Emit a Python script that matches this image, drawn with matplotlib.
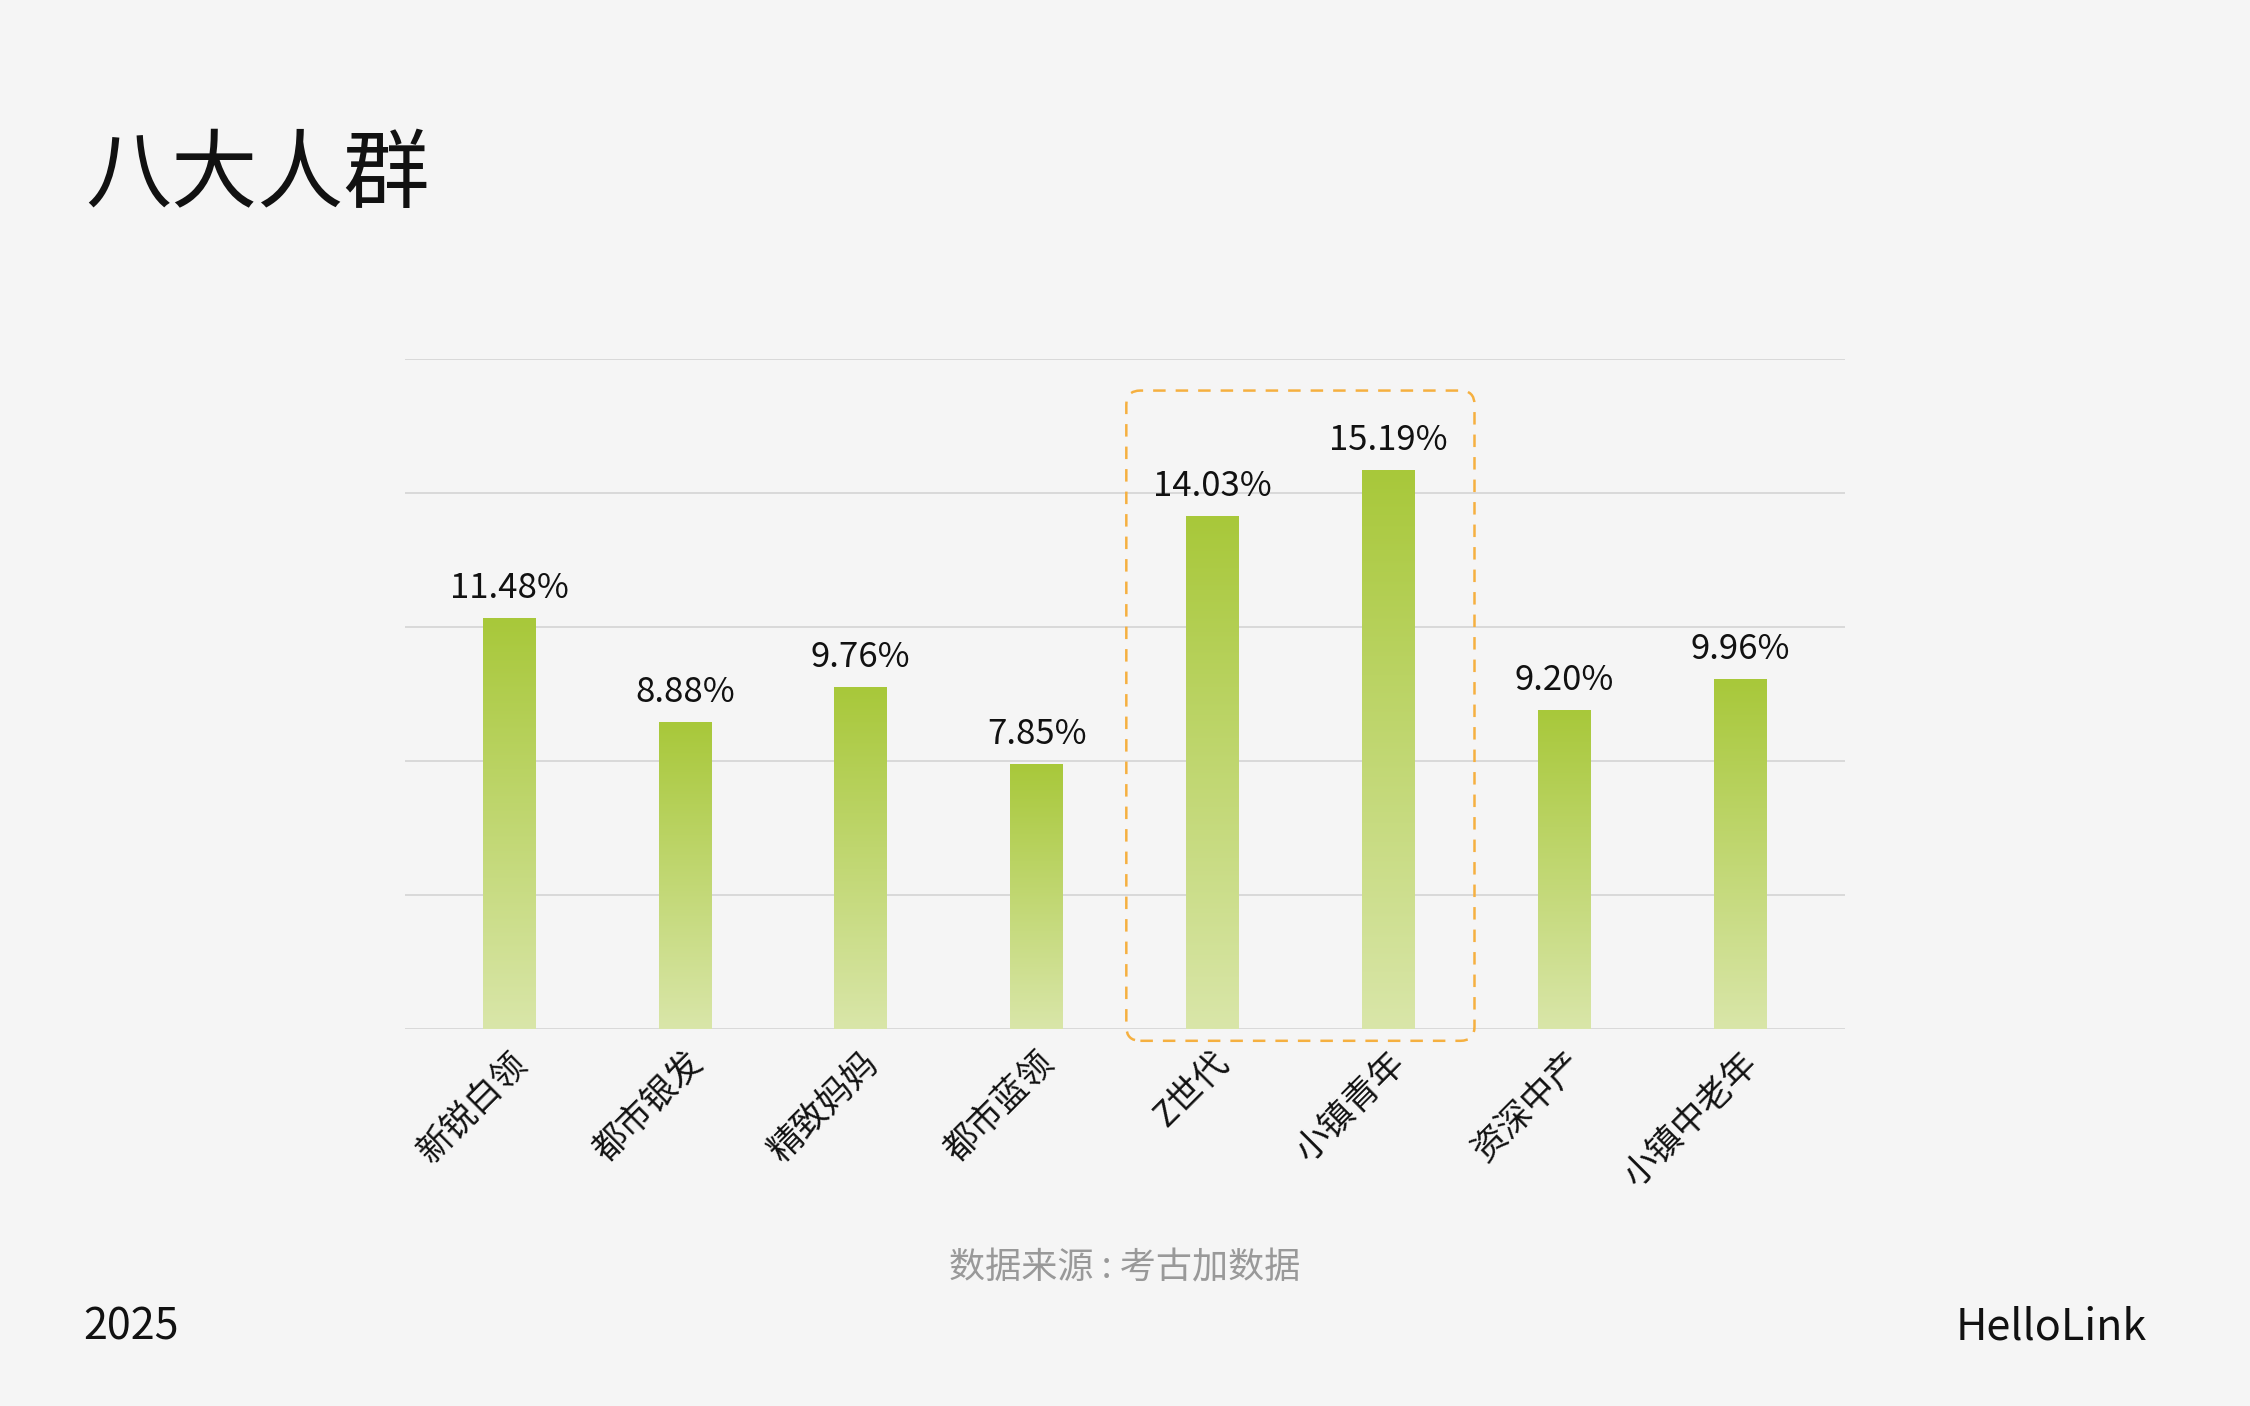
import numpy as np
import matplotlib.pyplot as plt
from matplotlib.patches import FancyBboxPatch
from matplotlib.colors import LinearSegmentedColormap

plt.rcParams['font.family'] = ['Noto Sans CJK SC', 'DejaVu Sans']

groups = ["新锐白领", "都市银发", "精致妈妈", "都市蓝领", "Z世代", "小镇青年", "资深中产", "小镇中老年"]
shares = [11.48, 8.88, 9.76, 7.85, 14.03, 15.19, 9.20, 9.96]

bg = "#f5f5f5"
fig = plt.figure(figsize=(22.5, 14.06), dpi=100, facecolor=bg)
ax = fig.add_axes([0.180, 0.268, 0.640, 0.477], facecolor=bg)

ymin, ymax = 1.22, 17.97
ax.set_ylim(ymin, ymax)
ax.set_xlim(-0.592, 7.597)
ax.set_yticks(np.linspace(ymin, ymax, 6))
ax.yaxis.grid(True, color="#d6d6d6", lw=1.3)
ax.set_axisbelow(True)
ax.tick_params(axis="y", length=0, labelleft=False)
ax.tick_params(axis="x", length=0, pad=12)
for s in ax.spines.values():
    s.set_visible(False)

cmap = LinearSegmentedColormap.from_list("g", ["#d9e6a9", "#a8c83a"])
grad = np.linspace(0, 1, 256).reshape(-1, 1)
w = 0.3
bars = ax.bar(range(len(groups)), shares, width=w, bottom=0, color="none")
for i, (b, v) in enumerate(zip(bars, shares)):
    im = ax.imshow(grad, cmap=cmap, origin="lower", aspect="auto",
                   extent=[i - w / 2, i + w / 2, ymin, v], zorder=2)
    im.set_clip_path(b)
    ax.text(i, v + 0.3, f"{v:.2f}%", ha="center", va="bottom", fontsize=25, color="#111111")

ax.set_xticks(range(len(groups)))
ax.set_xticklabels(groups, rotation=45, ha="right", rotation_mode="anchor", fontsize=25, color="#111111")

box = FancyBboxPatch((3.51, 0.93), 5.49 - 3.51, 17.17 - 0.93,
                     boxstyle="round,pad=0,rounding_size=0.08", mutation_aspect=4.39,
                     fill=False, ec="#f5b040", lw=1.8, ls=(0, (5, 4)), clip_on=False, zorder=3)
ax.add_patch(box)

fig.text(0.038, 0.874, "八大人群", fontsize=62, fontweight="medium", va="center", color="#111111")
fig.text(0.5, 0.098, "数据来源 : 考古加数据", fontsize=26, ha="center", va="center", color="#999999")
fig.text(0.037, 0.056, "2025", fontsize=31, va="center", color="#111111")
fig.text(0.954, 0.056, "HelloLink", fontsize=31, ha="right", va="center", color="#111111")

fig.savefig("out.png", dpi=100, facecolor=bg)
